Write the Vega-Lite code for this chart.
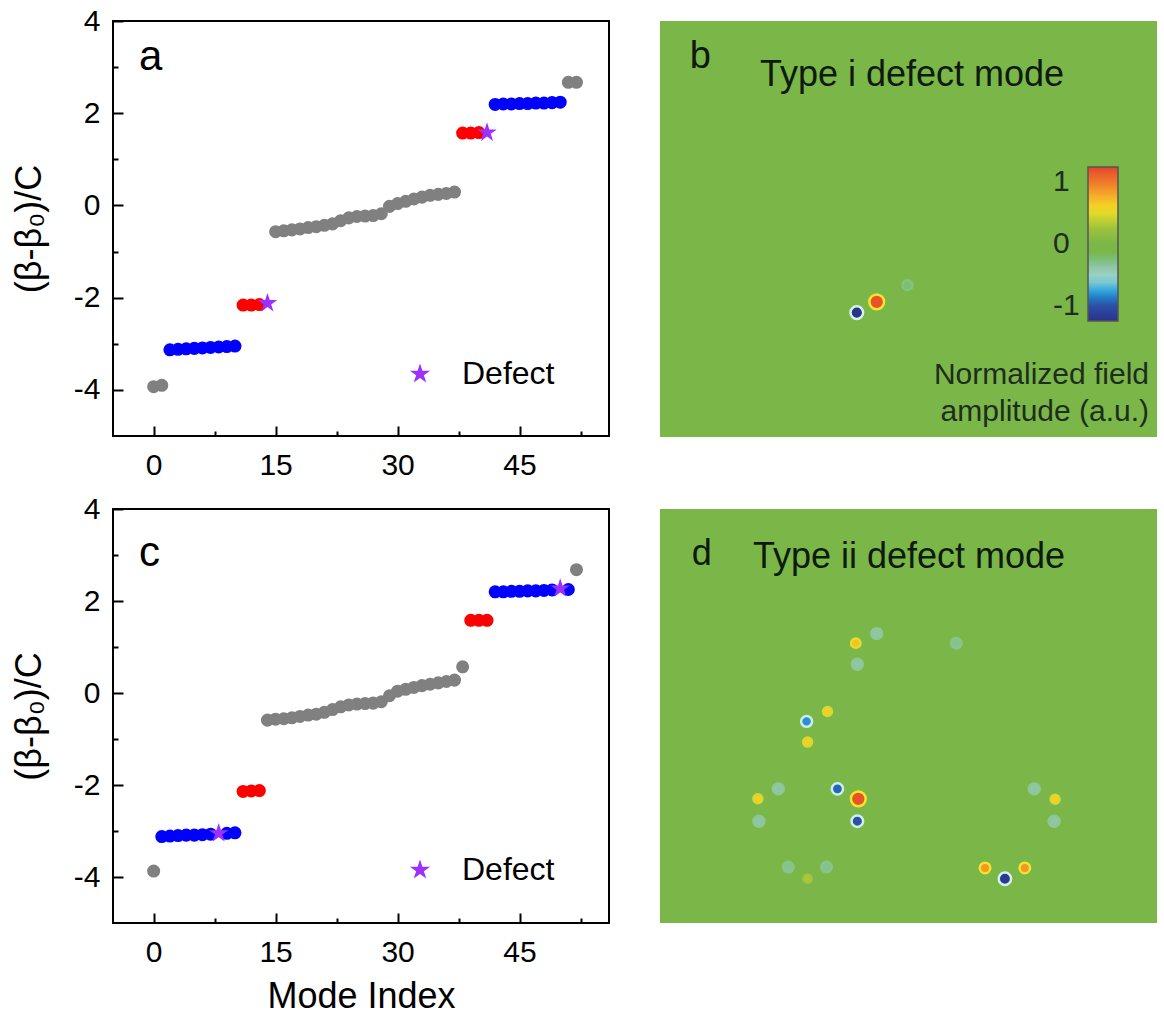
{
  "$schema": "https://vega.github.io/schema/vega-lite/v6.json",
  "background": "white",
  "padding": {"left": 10, "top": 5, "right": 0, "bottom": 0},
  "config": {
    "font": "Liberation Sans",
    "view": {"stroke": "black", "strokeWidth": 2},
    "axis": {"domainColor": "black", "domainWidth": 2, "tickColor": "black", "tickWidth": 2, "labelFontSize": 30, "labelColor": "black", "titleFontSize": 36, "titleFontWeight": "normal", "titleColor": "black", "grid": false, "labelFont": "Liberation Sans", "titleFont": "Liberation Sans", "labelOverlap": false, "labelFlush": false},
    "legend": {"labelFont": "Liberation Sans"}
  },
  "datasets": {
    "a_modes": [
      {"mode": 0, "beta": -3.93, "group": "bulk"}, {"mode": 1, "beta": -3.9, "group": "bulk"},
      {"mode": 2, "beta": -3.13, "group": "edge"}, {"mode": 3, "beta": -3.12, "group": "edge"}, {"mode": 4, "beta": -3.11, "group": "edge"}, {"mode": 5, "beta": -3.1, "group": "edge"}, {"mode": 6, "beta": -3.09, "group": "edge"}, {"mode": 7, "beta": -3.08, "group": "edge"}, {"mode": 8, "beta": -3.07, "group": "edge"}, {"mode": 9, "beta": -3.06, "group": "edge"}, {"mode": 10, "beta": -3.05, "group": "edge"},
      {"mode": 11, "beta": -2.16, "group": "corner"}, {"mode": 12, "beta": -2.16, "group": "corner"}, {"mode": 13, "beta": -2.15, "group": "corner"},
      {"mode": 15, "beta": -0.57, "group": "bulk"}, {"mode": 16, "beta": -0.55, "group": "bulk"}, {"mode": 17, "beta": -0.53, "group": "bulk"}, {"mode": 18, "beta": -0.51, "group": "bulk"}, {"mode": 19, "beta": -0.48, "group": "bulk"}, {"mode": 20, "beta": -0.46, "group": "bulk"}, {"mode": 21, "beta": -0.43, "group": "bulk"}, {"mode": 22, "beta": -0.4, "group": "bulk"}, {"mode": 23, "beta": -0.33, "group": "bulk"}, {"mode": 24, "beta": -0.27, "group": "bulk"}, {"mode": 25, "beta": -0.24, "group": "bulk"}, {"mode": 26, "beta": -0.23, "group": "bulk"}, {"mode": 27, "beta": -0.22, "group": "bulk"}, {"mode": 28, "beta": -0.18, "group": "bulk"}, {"mode": 29, "beta": -0.02, "group": "bulk"}, {"mode": 30, "beta": 0.04, "group": "bulk"}, {"mode": 31, "beta": 0.09, "group": "bulk"}, {"mode": 32, "beta": 0.14, "group": "bulk"}, {"mode": 33, "beta": 0.18, "group": "bulk"}, {"mode": 34, "beta": 0.22, "group": "bulk"}, {"mode": 35, "beta": 0.24, "group": "bulk"}, {"mode": 36, "beta": 0.26, "group": "bulk"}, {"mode": 37, "beta": 0.29, "group": "bulk"},
      {"mode": 38, "beta": 1.57, "group": "corner"}, {"mode": 39, "beta": 1.57, "group": "corner"}, {"mode": 40, "beta": 1.58, "group": "corner"},
      {"mode": 42, "beta": 2.19, "group": "edge"}, {"mode": 43, "beta": 2.2, "group": "edge"}, {"mode": 44, "beta": 2.2, "group": "edge"}, {"mode": 45, "beta": 2.21, "group": "edge"}, {"mode": 46, "beta": 2.21, "group": "edge"}, {"mode": 47, "beta": 2.22, "group": "edge"}, {"mode": 48, "beta": 2.22, "group": "edge"}, {"mode": 49, "beta": 2.23, "group": "edge"}, {"mode": 50, "beta": 2.24, "group": "edge"},
      {"mode": 51, "beta": 2.67, "group": "bulk"}, {"mode": 52, "beta": 2.67, "group": "bulk"}
    ],
    "a_defect": [
      {"mode": 14, "beta": -2.12, "kind": "Defect"}, {"mode": 41, "beta": 1.58, "kind": "Defect"}
    ],
    "c_modes": [
      {"mode": 0, "beta": -3.87, "group": "bulk"},
      {"mode": 1, "beta": -3.12, "group": "edge"}, {"mode": 2, "beta": -3.11, "group": "edge"}, {"mode": 3, "beta": -3.1, "group": "edge"}, {"mode": 4, "beta": -3.09, "group": "edge"}, {"mode": 5, "beta": -3.09, "group": "edge"}, {"mode": 6, "beta": -3.08, "group": "edge"}, {"mode": 7, "beta": -3.07, "group": "edge"}, {"mode": 9, "beta": -3.05, "group": "edge"}, {"mode": 10, "beta": -3.04, "group": "edge"},
      {"mode": 11, "beta": -2.14, "group": "corner"}, {"mode": 12, "beta": -2.13, "group": "corner"}, {"mode": 13, "beta": -2.12, "group": "corner"},
      {"mode": 14, "beta": -0.59, "group": "bulk"}, {"mode": 15, "beta": -0.57, "group": "bulk"}, {"mode": 16, "beta": -0.56, "group": "bulk"}, {"mode": 17, "beta": -0.54, "group": "bulk"}, {"mode": 18, "beta": -0.51, "group": "bulk"}, {"mode": 19, "beta": -0.48, "group": "bulk"}, {"mode": 20, "beta": -0.46, "group": "bulk"}, {"mode": 21, "beta": -0.42, "group": "bulk"}, {"mode": 22, "beta": -0.36, "group": "bulk"}, {"mode": 23, "beta": -0.3, "group": "bulk"}, {"mode": 24, "beta": -0.26, "group": "bulk"}, {"mode": 25, "beta": -0.24, "group": "bulk"}, {"mode": 26, "beta": -0.23, "group": "bulk"}, {"mode": 27, "beta": -0.22, "group": "bulk"}, {"mode": 28, "beta": -0.19, "group": "bulk"}, {"mode": 29, "beta": -0.06, "group": "bulk"}, {"mode": 30, "beta": 0.04, "group": "bulk"}, {"mode": 31, "beta": 0.08, "group": "bulk"}, {"mode": 32, "beta": 0.12, "group": "bulk"}, {"mode": 33, "beta": 0.16, "group": "bulk"}, {"mode": 34, "beta": 0.19, "group": "bulk"}, {"mode": 35, "beta": 0.22, "group": "bulk"}, {"mode": 36, "beta": 0.25, "group": "bulk"}, {"mode": 37, "beta": 0.28, "group": "bulk"}, {"mode": 38, "beta": 0.57, "group": "bulk"},
      {"mode": 39, "beta": 1.58, "group": "corner"}, {"mode": 40, "beta": 1.58, "group": "corner"}, {"mode": 41, "beta": 1.58, "group": "corner"},
      {"mode": 42, "beta": 2.2, "group": "edge"}, {"mode": 43, "beta": 2.2, "group": "edge"}, {"mode": 44, "beta": 2.21, "group": "edge"}, {"mode": 45, "beta": 2.21, "group": "edge"}, {"mode": 46, "beta": 2.22, "group": "edge"}, {"mode": 47, "beta": 2.22, "group": "edge"}, {"mode": 48, "beta": 2.23, "group": "edge"}, {"mode": 49, "beta": 2.24, "group": "edge"}, {"mode": 51, "beta": 2.25, "group": "edge"},
      {"mode": 52, "beta": 2.68, "group": "bulk"}
    ],
    "c_defect": [
      {"mode": 8, "beta": -3.05, "kind": "Defect"}, {"mode": 50, "beta": 2.27, "kind": "Defect"}
    ],
    "b_field": [
      {"px": 39.6, "py": 70.1, "amp": -1.0},
      {"px": 43.6, "py": 67.5, "amp": 0.95},
      {"px": 49.8, "py": 63.5, "amp": -0.2}
    ],
    "d_field": [
      {"px": 39.4, "py": 32.4, "amp": 0.55},
      {"px": 43.6, "py": 30.1, "amp": -0.3},
      {"px": 39.7, "py": 37.5, "amp": -0.3},
      {"px": 59.6, "py": 32.4, "amp": -0.25},
      {"px": 33.7, "py": 48.9, "amp": 0.5},
      {"px": 29.5, "py": 51.3, "amp": -0.65},
      {"px": 29.7, "py": 56.3, "amp": 0.5},
      {"px": 23.8, "py": 67.6, "amp": -0.3},
      {"px": 19.7, "py": 70.0, "amp": 0.5},
      {"px": 19.9, "py": 75.4, "amp": -0.3},
      {"px": 35.7, "py": 67.6, "amp": -0.75},
      {"px": 39.9, "py": 70.0, "amp": 0.95},
      {"px": 39.7, "py": 75.4, "amp": -0.8},
      {"px": 75.3, "py": 67.6, "amp": -0.3},
      {"px": 79.5, "py": 70.1, "amp": 0.5},
      {"px": 79.3, "py": 75.4, "amp": -0.3},
      {"px": 65.4, "py": 86.7, "amp": 0.7},
      {"px": 69.4, "py": 89.3, "amp": -0.95},
      {"px": 73.4, "py": 86.7, "amp": 0.7},
      {"px": 25.8, "py": 86.5, "amp": -0.25},
      {"px": 33.5, "py": 86.5, "amp": -0.25},
      {"px": 29.7, "py": 89.3, "amp": 0.25}
    ]
  },
  "resolve": {"scale": {"color": "independent", "fill": "independent", "stroke": "independent", "size": "independent"}, "legend": {"color": "independent", "fill": "independent"}},
  "spacing": 12,
  "vconcat": [
    {
      "spacing": 50,
      "resolve": {"scale": {"color": "independent", "fill": "independent", "stroke": "independent", "size": "independent"}, "legend": {"color": "independent", "fill": "independent"}},
      "hconcat": [
        {
          "width": 496, "height": 415,
          "resolve": {"axis": {"x": "independent", "y": "independent"}},
          "layer": [
            {
              "data": {"name": "a_modes"},
              "mark": {"type": "point", "filled": true, "size": 170, "opacity": 1, "strokeWidth": 0},
              "encoding": {
                "x": {"field": "mode", "type": "quantitative", "scale": {"domain": [-5, 56], "nice": false, "zero": false},
                  "axis": {"orient": "bottom", "title": null, "values": [0, 15, 30, 45], "offset": -10, "tickSize": 10, "domain": false, "labelPadding": 14}},
                "y": {"field": "beta", "type": "quantitative", "scale": {"domain": [-5, 4], "nice": false, "zero": false},
                  "axis": {"orient": "left", "title": "(β-β₀)/C", "values": [-4, -2, 0, 2, 4], "labelExpr": "datum.value + ''", "offset": -10, "tickSize": 10, "domain": false, "labelPadding": 13, "titlePadding": 25}},
                "fill": {"field": "group", "type": "nominal", "scale": {"domain": ["bulk", "edge", "corner"], "range": ["#808080", "#0000ff", "#ff0000"]}, "legend": null}
              }
            },
            {
              "data": {"name": "a_defect"},
              "mark": {"type": "point", "shape": "M0,-1L0.2245,-0.309L0.951,-0.309L0.363,0.118L0.588,0.809L0,0.382L-0.588,0.809L-0.363,0.118L-0.951,-0.309L-0.2245,-0.309Z", "filled": true, "size": 420, "opacity": 1, "strokeWidth": 0},
              "encoding": {
                "x": {"field": "mode", "type": "quantitative", "axis": {"orient": "bottom", "values": [7.5, 22.5, 37.5, 52.5], "labels": false, "offset": -5, "tickSize": 5, "domain": false, "title": null}},
                "y": {"field": "beta", "type": "quantitative", "axis": {"orient": "left", "values": [-3, -1, 1, 3], "labels": false, "offset": -5, "tickSize": 5, "domain": false, "title": null}},
                "color": {"field": "kind", "type": "nominal", "scale": {"domain": ["Defect"], "range": ["#9b30ff"]},
                  "legend": {"title": null, "orient": "none", "legendX": 291, "legendY": 337, "symbolType": "M0,-1L0.2245,-0.309L0.951,-0.309L0.363,0.118L0.588,0.809L0,0.382L-0.588,0.809L-0.363,0.118L-0.951,-0.309L-0.2245,-0.309Z", "symbolSize": 450, "symbolStrokeWidth": 0, "labelFontSize": 32, "labelColor": "black", "labelOffset": 26, "padding": 0}}
              }
            },
            {
              "data": {"values": [{"mode": -1.8, "beta": 3.22, "label": "a"}]},
              "mark": {"type": "text", "fontSize": 42, "align": "left", "baseline": "middle", "color": "black"},
              "encoding": {"x": {"field": "mode", "type": "quantitative", "axis": null}, "y": {"field": "beta", "type": "quantitative", "axis": null}, "text": {"field": "label"}}
            }
          ]
        },
        {
          "width": 497, "height": 416,
          "view": {"fill": "#7ab648", "stroke": null},
          "layer": [
            {
              "data": {"name": "b_field"},
              "mark": {"type": "point", "filled": true, "opacity": 1, "strokeWidth": 2.5},
              "encoding": {
                "x": {"field": "px", "type": "quantitative", "scale": {"domain": [0, 100]}, "axis": null},
                "y": {"field": "py", "type": "quantitative", "scale": {"domain": [0, 100], "reverse": true}, "axis": null},
                "fill": {"field": "amp", "type": "quantitative",
                  "scale": {"domain": [-1, -0.8, -0.6, -0.45, -0.3, -0.12, 0, 0.2, 0.45, 0.6, 0.8, 1], "range": ["#28338a", "#2d4fa6", "#38a6dc", "#9ed6d2", "#90c6a4", "#7ab648", "#7ab648", "#9ec23c", "#f3df22", "#f5b32a", "#ee7a2a", "#e6432c"]},
                  "legend": {"title": null, "orient": "none", "legendX": 428, "legendY": 146, "direction": "vertical", "gradientLength": 154, "gradientThickness": 30, "values": [-1, 0, 1], "labelExpr": "datum.value + ''", "labelFontSize": 30, "labelColor": "#1e2d1e", "labelOffset": -65, "gradientStrokeColor": "#555555", "gradientStrokeWidth": 1.5, "padding": 0}},
                "stroke": {"field": "amp", "type": "quantitative", "scale": {"domain": [-1, -0.6, -0.35, 0, 0.35, 0.6, 1], "range": ["#d6f2f0", "#c8ecec", "#96c8a0", "#7ab648", "#b2c83a", "#f2e22a", "#f7e62a"]}, "legend": null},
                "size": {"field": "amp", "type": "quantitative", "scale": {"domain": [-1, -0.7, -0.3, 0, 0.5, 0.7, 1], "range": [160, 120, 120, 60, 80, 110, 240]}, "legend": null}
              }
            },
            {
              "data": {"values": [{"px": 6.0, "py": 8.7, "t": "b"}]},
              "mark": {"type": "text", "fontSize": 38, "align": "left", "baseline": "middle", "color": "#0d1a0d"},
              "encoding": {"x": {"field": "px", "type": "quantitative"}, "y": {"field": "py", "type": "quantitative"}, "text": {"field": "t"}}
            },
            {
              "data": {"values": [{"px": 20.1, "py": 13.0, "t": "Type i defect mode"}]},
              "mark": {"type": "text", "fontSize": 36, "align": "left", "baseline": "middle", "color": "#0d1a0d"},
              "encoding": {"x": {"field": "px", "type": "quantitative"}, "y": {"field": "py", "type": "quantitative"}, "text": {"field": "t"}}
            },
            {
              "data": {"values": [{"px": 98.4, "py": 85.1, "t": "Normalized field"}, {"px": 98.4, "py": 94.0, "t": "amplitude (a.u.)"}]},
              "mark": {"type": "text", "fontSize": 30, "align": "right", "baseline": "middle", "color": "#1e2d1e"},
              "encoding": {"x": {"field": "px", "type": "quantitative"}, "y": {"field": "py", "type": "quantitative"}, "text": {"field": "t"}}
            }
          ]
        }
      ]
    },
    {
      "spacing": 50,
      "resolve": {"scale": {"color": "independent", "fill": "independent", "stroke": "independent", "size": "independent"}, "legend": {"color": "independent", "fill": "independent"}},
      "hconcat": [
        {
          "width": 496, "height": 414,
          "resolve": {"axis": {"x": "independent", "y": "independent"}},
          "layer": [
            {
              "data": {"name": "c_modes"},
              "mark": {"type": "point", "filled": true, "size": 170, "opacity": 1, "strokeWidth": 0},
              "encoding": {
                "x": {"field": "mode", "type": "quantitative", "scale": {"domain": [-5, 56], "nice": false, "zero": false},
                  "axis": {"orient": "bottom", "title": "Mode Index", "values": [0, 15, 30, 45], "offset": -10, "tickSize": 10, "domain": false, "labelPadding": 14, "titlePadding": 12}},
                "y": {"field": "beta", "type": "quantitative", "scale": {"domain": [-5, 4], "nice": false, "zero": false},
                  "axis": {"orient": "left", "title": "(β-β₀)/C", "values": [-4, -2, 0, 2, 4], "labelExpr": "datum.value + ''", "offset": -10, "tickSize": 10, "domain": false, "labelPadding": 13, "titlePadding": 25}},
                "fill": {"field": "group", "type": "nominal", "scale": {"domain": ["bulk", "edge", "corner"], "range": ["#808080", "#0000ff", "#ff0000"]}, "legend": null}
              }
            },
            {
              "data": {"name": "c_defect"},
              "mark": {"type": "point", "shape": "M0,-1L0.2245,-0.309L0.951,-0.309L0.363,0.118L0.588,0.809L0,0.382L-0.588,0.809L-0.363,0.118L-0.951,-0.309L-0.2245,-0.309Z", "filled": true, "size": 420, "opacity": 1, "strokeWidth": 0},
              "encoding": {
                "x": {"field": "mode", "type": "quantitative", "axis": {"orient": "bottom", "values": [7.5, 22.5, 37.5, 52.5], "labels": false, "offset": -5, "tickSize": 5, "domain": false, "title": null}},
                "y": {"field": "beta", "type": "quantitative", "axis": {"orient": "left", "values": [-3, -1, 1, 3], "labels": false, "offset": -5, "tickSize": 5, "domain": false, "title": null}},
                "color": {"field": "kind", "type": "nominal", "scale": {"domain": ["Defect"], "range": ["#9b30ff"]},
                  "legend": {"title": null, "orient": "none", "legendX": 291, "legendY": 345, "symbolType": "M0,-1L0.2245,-0.309L0.951,-0.309L0.363,0.118L0.588,0.809L0,0.382L-0.588,0.809L-0.363,0.118L-0.951,-0.309L-0.2245,-0.309Z", "symbolSize": 450, "symbolStrokeWidth": 0, "labelFontSize": 32, "labelColor": "black", "labelOffset": 26, "padding": 0}}
              }
            },
            {
              "data": {"values": [{"mode": -1.8, "beta": 3.05, "label": "c"}]},
              "mark": {"type": "text", "fontSize": 42, "align": "left", "baseline": "middle", "color": "black"},
              "encoding": {"x": {"field": "mode", "type": "quantitative", "axis": null}, "y": {"field": "beta", "type": "quantitative", "axis": null}, "text": {"field": "label"}}
            }
          ]
        },
        {
          "width": 497, "height": 414,
          "view": {"fill": "#7ab648", "stroke": null},
          "layer": [
            {
              "data": {"name": "d_field"},
              "mark": {"type": "point", "filled": true, "opacity": 1, "strokeWidth": 2.5},
              "encoding": {
                "x": {"field": "px", "type": "quantitative", "scale": {"domain": [0, 100]}, "axis": null},
                "y": {"field": "py", "type": "quantitative", "scale": {"domain": [0, 100], "reverse": true}, "axis": null},
                "fill": {"field": "amp", "type": "quantitative",
                  "scale": {"domain": [-1, -0.8, -0.6, -0.45, -0.3, -0.12, 0, 0.2, 0.45, 0.6, 0.8, 1], "range": ["#28338a", "#2d4fa6", "#38a6dc", "#9ed6d2", "#90c6a4", "#7ab648", "#7ab648", "#9ec23c", "#f3df22", "#f5b32a", "#ee7a2a", "#e6432c"]},
                  "legend": null},
                "stroke": {"field": "amp", "type": "quantitative", "scale": {"domain": [-1, -0.6, -0.35, 0, 0.35, 0.6, 1], "range": ["#d6f2f0", "#c8ecec", "#96c8a0", "#7ab648", "#b2c83a", "#f2e22a", "#f7e62a"]}, "legend": null},
                "size": {"field": "amp", "type": "quantitative", "scale": {"domain": [-1, -0.7, -0.3, 0, 0.5, 0.7, 1], "range": [160, 120, 120, 60, 80, 110, 240]}, "legend": null}
              }
            },
            {
              "data": {"values": [{"px": 6.4, "py": 10.9, "t": "d"}]},
              "mark": {"type": "text", "fontSize": 36, "align": "left", "baseline": "middle", "color": "#0d1a0d"},
              "encoding": {"x": {"field": "px", "type": "quantitative"}, "y": {"field": "py", "type": "quantitative"}, "text": {"field": "t"}}
            },
            {
              "data": {"values": [{"px": 18.7, "py": 11.6, "t": "Type ii defect mode"}]},
              "mark": {"type": "text", "fontSize": 36, "align": "left", "baseline": "middle", "color": "#0d1a0d"},
              "encoding": {"x": {"field": "px", "type": "quantitative"}, "y": {"field": "py", "type": "quantitative"}, "text": {"field": "t"}}
            }
          ]
        }
      ]
    }
  ]
}
